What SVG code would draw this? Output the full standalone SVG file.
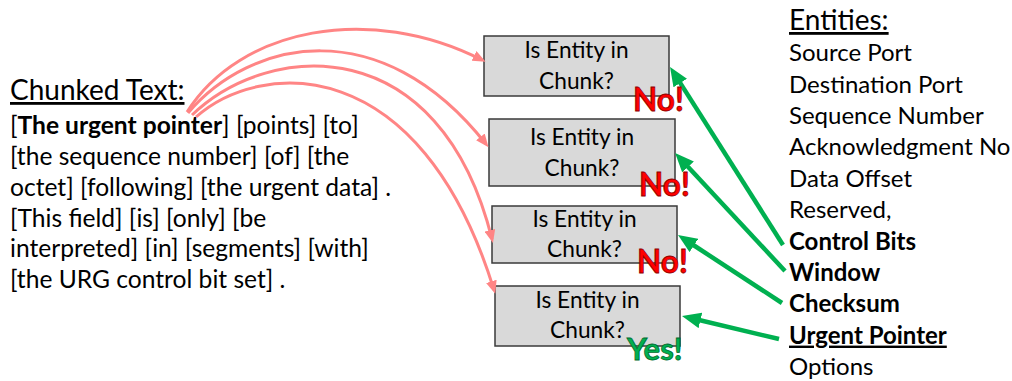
<svg xmlns="http://www.w3.org/2000/svg" width="1012" height="381" viewBox="0 0 1012 381">
  <defs>
    <style>
      text { font-family: Lato, "Liberation Sans", sans-serif; fill: #000; }
      .body { font-size: 24.6px; }
      .list { font-size: 24px; }
      .title { font-size: 28px; text-decoration: underline; }
      .b { font-weight: bold; }
      .box rect { fill: #D9D9D9; stroke: #3A3A3A; stroke-width: 1.5; }
      .box text { font-size: 22.7px; text-anchor: middle; }
      .no { font-size: 31.5px; font-weight: bold; fill: #FF0000; stroke: #8B0000; stroke-width: 0.8; }
      .yes { font-size: 31px; font-weight: bold; fill: #00B050; stroke: #006A2E; stroke-width: 0.8; }
      .pink { fill: none; stroke: #FF8585; stroke-width: 3; }
      .green { fill: none; stroke: #00B050; stroke-width: 4.5; }
    </style>
    <marker id="pinkHead" markerUnits="userSpaceOnUse" viewBox="0 0 13 11" refX="9" refY="5.5" markerWidth="13" markerHeight="11" orient="auto">
      <path d="M0,0 L13,5.5 L0,11 z" fill="#FF8585"/>
    </marker>
    <marker id="greenHead" markerUnits="userSpaceOnUse" viewBox="0 0 19 16" refX="9" refY="8" markerWidth="19" markerHeight="16" orient="auto">
      <path d="M0,0 L19,8 L0,16 z" fill="#00B050"/>
    </marker>
  </defs>

  <!-- chunked sentence -->
  <g id="chunked-text">
    <text class="title" x="10" y="100">Chunked Text:</text>
    <text class="body" x="10" y="134">[<tspan class="b">The urgent pointer</tspan>] [points] [to]</text>
    <text class="body" x="10" y="165">[the sequence number] [of] [the</text>
    <text class="body" x="10" y="196">octet] [following] [the urgent data] .</text>
    <text class="body" x="10" y="227">[This field] [is] [only] [be</text>
    <text class="body" x="10" y="257">interpreted] [in] [segments] [with]</text>
    <text class="body" x="10" y="288">[the URG control bit set] .</text>
  </g>

  <!-- entity list -->
  <g id="entities">
    <text class="title" x="789" y="30">Entities:</text>
    <text class="list" x="789" y="61.4">Source Port</text>
    <text class="list" x="789" y="92.7">Destination Port</text>
    <text class="list" x="789" y="124.1">Sequence Number</text>
    <text class="list" x="789" y="155.4">Acknowledgment No</text>
    <text class="list" x="789" y="186.8">Data Offset</text>
    <text class="list" x="789" y="218.2">Reserved,</text>
    <text class="list b" x="789" y="249.5">Control Bits</text>
    <text class="list b" x="789" y="280.9">Window</text>
    <text class="list b" x="789" y="312.2">Checksum</text>
    <text class="list b" x="789" y="343.6" text-decoration="underline">Urgent Pointer</text>
    <text class="list" x="789" y="375">Options</text>
  </g>

  <!-- check boxes -->
  <g id="check-1" class="box">
    <rect x="484" y="36" width="185" height="60"/>
    <text x="576.5" y="58">Is Entity in</text>
    <text x="576.5" y="89">Chunk?</text>
  </g>
  <g id="check-2" class="box">
    <rect x="489" y="119" width="186" height="67"/>
    <text x="582" y="145">Is Entity in</text>
    <text x="582" y="176">Chunk?</text>
  </g>
  <g id="check-3" class="box">
    <rect x="492" y="206" width="185" height="57"/>
    <text x="584.5" y="227">Is Entity in</text>
    <text x="584.5" y="257">Chunk?</text>
  </g>
  <g id="check-4" class="box">
    <rect x="495" y="286" width="185" height="60"/>
    <text x="587.5" y="308">Is Entity in</text>
    <text x="587.5" y="338">Chunk?</text>
  </g>

  <!-- connectors -->
  <g id="connectors">
    <path class="pink" marker-end="url(#pinkHead)" d="M187,112 C240,28 370,3 482,60"/>
    <path class="pink" marker-end="url(#pinkHead)" d="M188,113 C250,40 380,10 486,144"/>
    <path class="pink" marker-end="url(#pinkHead)" d="M192,115 C270,40 440,30 492,239"/>
    <path class="pink" marker-end="url(#pinkHead)" d="M196,117 C260,60 420,50 494,290"/>

    <line class="green" marker-end="url(#greenHead)" x1="783" y1="245" x2="675.4" y2="75.4"/>
    <line class="green" marker-end="url(#greenHead)" x1="785" y1="271" x2="681.9" y2="160.3"/>
    <line class="green" marker-end="url(#greenHead)" x1="782" y1="303" x2="686.4" y2="240.5"/>
    <line class="green" marker-end="url(#greenHead)" x1="779" y1="339" x2="691.7" y2="318.3"/>
  </g>

  <!-- verdicts -->
  <g id="verdicts">
    <text class="no" x="633" y="111">No!</text>
    <text class="no" x="639" y="196">No!</text>
    <text class="no" x="637" y="273">No!</text>
    <text class="yes" x="627" y="360">Yes!</text>
  </g>
</svg>
